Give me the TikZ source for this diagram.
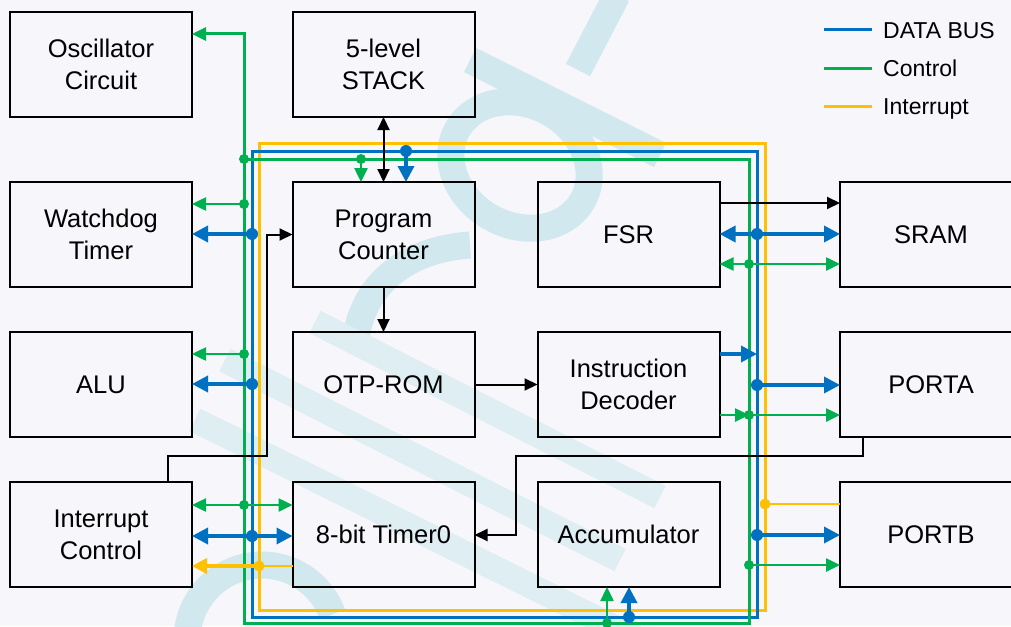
\documentclass[tikz,border=0pt]{standalone}
\usepackage{fontspec}
\setmainfont{Liberation Sans}
\usetikzlibrary{arrows.meta}
\definecolor{busblue}{RGB}{0,112,192}
\definecolor{busgreen}{RGB}{0,176,80}
\definecolor{busyellow}{RGB}{255,192,0}
\definecolor{bgcol}{RGB}{246,246,251}
\definecolor{wmcol}{RGB}{208,232,238}
\definecolor{wmlight}{RGB}{222,238,243}
\begin{document}
\begin{tikzpicture}[x=1pt,y=-1pt,
  blk/.style={draw=black,line width=2pt,minimum width=182pt,minimum height=105pt,
    inner sep=0pt,outer sep=0pt,align=center,font=\fontsize{25.5}{32}\selectfont},
  wm/.style={wmcol,line width=27pt},
  wml/.style={wmlight,line width=25pt},
  bframe/.style={busblue,line width=3pt},
  gframe/.style={busgreen,line width=3pt},
  yframe/.style={busyellow,line width=3pt},
  bl/.style={busblue,line width=3.5pt},
  gr/.style={busgreen,line width=2.5pt},
  yl/.style={busyellow,line width=3.5pt},
  kl/.style={black,line width=2pt},
  btip/.tip={Triangle[length=16pt,width=16pt]},
  gtip/.tip={Triangle[length=14pt,width=13pt]},
  ktip/.tip={Triangle[length=13pt,width=12pt]},
  ytip/.tip={Triangle[length=15pt,width=15pt]},
  bdot/.style={circle,fill=busblue,inner sep=0pt,minimum size=12pt},
  gdot/.style={circle,fill=busgreen,inner sep=0pt,minimum size=10pt},
  ydot/.style={circle,fill=busyellow,inner sep=0pt,minimum size=11pt},
  leg/.style={anchor=base west,inner sep=0pt,font=\fontsize{23}{28}\selectfont}
]
\useasboundingbox (0,0) rectangle (1011,626);
\clip (0,0) rectangle (1011,626);
\fill[bgcol] (0,0) rectangle (1011,626);

% watermark
\draw[wm] (617,-5) -- (578,70);
\draw[wm] (470,60) -- (660,155);
\draw[wm,rotate around={-30:(520,165)}] (520,165) ellipse [x radius=72, y radius=60];
\draw[wm] (470,245) .. controls (400,250) and (360,290) .. (355,345);
\draw[wml] (315,322) -- (660,497);
\draw[wml] (225,360) -- (620,560);
\draw[wml] (195,420) -- (640,640);
\draw[wm] (187,640) arc[start angle=180, end angle=340, radius=75];

% blocks
\node[blk] (osc) at (101,64.5) {Oscillator\\Circuit};
\node[blk] (stack) at (383.5,64.5) {5-level\\STACK};
\node[blk] (wdt) at (101,234.5) {Watchdog\\Timer};
\node[blk] (pc) at (383.5,234.5) {Program\\Counter};
\node[blk] (fsr) at (628.5,234.5) {FSR};
\node[blk] (sram) at (931,234.5) {SRAM};
\node[blk] (alu) at (101,384.5) {ALU};
\node[blk] (rom) at (383.5,384.5) {OTP-ROM};
\node[blk] (dec) at (628.5,384.5) {Instruction\\Decoder};
\node[blk] (porta) at (931,384.5) {PORTA};
\node[blk] (irq) at (101,534.5) {Interrupt\\Control};
\node[blk] (tmr) at (383.5,534.5) {8-bit Timer0};
\node[blk] (acc) at (628.5,534.5) {Accumulator};
\node[blk] (portb) at (931,534.5) {PORTB};

% bus frames
\coordinate (gtop) at (244,34);
\coordinate (gcorner) at (244,159);
\draw[yframe] (259,143) rectangle (765,610);
\draw[bframe] (252,151) rectangle (757,617);
\draw[gframe] (244,159) rectangle (749,623);
\draw[gframe,-{gtip}] (gcorner) -- (gtop) -- (osc.east |- gtop);

% bus taps (coordinates)
\coordinate (gpc) at (361,159);
\coordinate (bpc) at (406,151);
\coordinate (gwd) at (244,204);
\coordinate (bwd) at (252,234);
\coordinate (gal) at (244,354);
\coordinate (bal) at (252,384);
\coordinate (git) at (244,505);
\coordinate (bit) at (252,536);
\coordinate (yit) at (259,566);
\coordinate (bsr) at (757,234);
\coordinate (gsr) at (749,264);
\coordinate (bde) at (757,354);
\coordinate (gde) at (749,415);
\coordinate (bpa) at (757,385);
\coordinate (ypb) at (765,504);
\coordinate (bpb) at (757,535);
\coordinate (gpb) at (749,565);
\coordinate (gac) at (607,623);
\coordinate (bac) at (629,617);

% PC connections
\draw[gr,-{gtip}] (gpc) -- (gpc |- pc.north);
\draw[bl,-{btip}] (bpc) -- (bpc |- pc.north);
\draw[kl,{ktip}-{ktip}] (stack.south) -- (pc.north);
\draw[kl,-{ktip}] (pc.south) -- (rom.north);
\draw[kl,-{ktip}] (rom.east) -- (dec.west);

% left side
\draw[gr,-{gtip}] (gwd) -- (wdt.east |- gwd);
\draw[bl,-{btip}] (bwd) -- (wdt.east |- bwd);
\draw[gr,-{gtip}] (gal) -- (alu.east |- gal);
\draw[bl,-{btip}] (bal) -- (alu.east |- bal);
\draw[gr,{gtip}-{gtip}] (irq.east |- git) -- (tmr.west |- git);
\draw[bl,{btip}-{btip}] (irq.east |- bit) -- (tmr.west |- bit);
\draw[busyellow,line width=2pt] (tmr.west |- yit) -- (yit);
\draw[yl,-{ytip}] (yit) -- (irq.east |- yit);

% interrupt control -> program counter
\coordinate (k1) at (168,456);
\coordinate (k2) at (267,456);
\coordinate (k3) at (267,234.5);
\draw[kl,-{ktip}] (irq.north -| k1) -- (k1) -- (k2) -- (k3) -- (pc.west);

% PORTA -> Timer0
\coordinate (k4) at (863,456);
\coordinate (k5) at (516,456);
\coordinate (k6) at (516,535);
\draw[kl,-{ktip}] (porta.south -| k4) -- (k4) -- (k5) -- (k6) -- (tmr.east |- k6);

% right side
\coordinate (k7) at (719,203);
\draw[kl,-{ktip}] (fsr.east |- k7) -- (sram.west |- k7);
\draw[bl,{btip}-{btip}] (fsr.east |- bsr) -- (sram.west |- bsr);
\draw[gr,{gtip}-{gtip}] (fsr.east |- gsr) -- (sram.west |- gsr);
\draw[bl,-{btip}] (dec.east |- bde) -- (bde);
\draw[gr,-{gtip}] (dec.east |- gde) -- (gde);
\draw[bl,-{btip}] (bpa) -- (porta.west |- bpa);
\draw[gr,-{gtip}] (gde) -- (porta.west |- gde);
\draw[busyellow,line width=2pt] (ypb) -- (portb.west |- ypb);
\draw[bl,-{btip}] (bpb) -- (portb.west |- bpb);
\draw[gr,-{gtip}] (gpb) -- (portb.west |- gpb);
\draw[gr,-{gtip}] (gac) -- (gac |- acc.south);
\draw[bl,-{btip}] (bac) -- (bac |- acc.south);

% dots
\node[gdot] at (gcorner) {};
\node[gdot] at (gpc) {};
\node[bdot] at (bpc) {};
\node[gdot] at (gwd) {};
\node[bdot] at (bwd) {};
\node[gdot] at (gal) {};
\node[bdot] at (bal) {};
\node[gdot] at (git) {};
\node[bdot] at (bit) {};
\node[ydot] at (yit) {};
\node[bdot] at (bsr) {};
\node[gdot] at (gsr) {};
\node[bdot] at (bpa) {};
\node[gdot] at (gde) {};
\node[ydot] at (ypb) {};
\node[bdot] at (bpb) {};
\node[gdot] at (gpb) {};
\node[gdot] at (gac) {};
\node[bdot] at (bac) {};

% legend
\coordinate (l1a) at (824,30);  \coordinate (l1b) at (872,30);
\coordinate (l2a) at (824,68);  \coordinate (l2b) at (872,68);
\coordinate (l3a) at (824,106); \coordinate (l3b) at (872,106);
\draw[busblue,line width=3pt] (l1a) -- (l1b);
\draw[busgreen,line width=3pt] (l2a) -- (l2b);
\draw[busyellow,line width=3pt] (l3a) -- (l3b);
\node[leg] (t1) at (883,38.5) {DATA BUS};
\node[leg] (t2) at (883,76.5) {Control};
\node[leg] (t3) at (883,114.5) {Interrupt};
\end{tikzpicture}
\end{document}
